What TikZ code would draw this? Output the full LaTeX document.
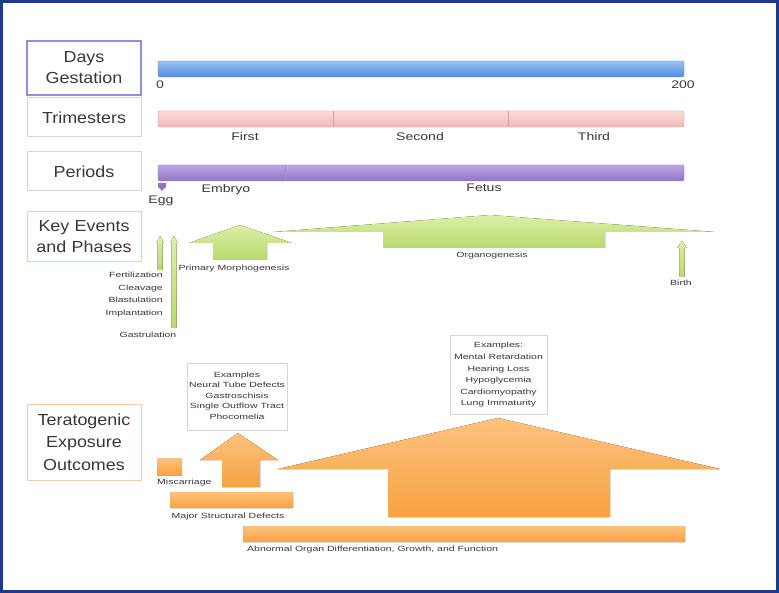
\documentclass[tikz,border=0pt]{standalone}
\usepackage{fontspec}
\setmainfont{Liberation Sans}
\newfontfamily\widefont[FakeStretch=1.4]{Liberation Sans}
\newfontfamily\midwide[FakeStretch=1.28]{Liberation Sans}
\newfontfamily\labfont[FakeStretch=1.12]{Liberation Sans}
\definecolor{navy}{HTML}{1C3A8C}
\definecolor{txt}{HTML}{383838}
\definecolor{boxblue}{HTML}{8E8EE6}
\definecolor{boxgrey}{HTML}{D6D6D6}
\definecolor{boxorange}{HTML}{F2CFA8}
\definecolor{blueT}{HTML}{9CC4F2}
\definecolor{blueB}{HTML}{4F8CDB}
\definecolor{blueD}{HTML}{5A8ED0}
\definecolor{pinkT}{HTML}{FBDADA}
\definecolor{pinkB}{HTML}{F4B8B8}
\definecolor{pinkD}{HTML}{D89A9A}
\definecolor{purT}{HTML}{BDA5E2}
\definecolor{purB}{HTML}{9274C6}
\definecolor{purD}{HTML}{8E70C0}
\definecolor{grnT}{HTML}{DCEFA6}
\definecolor{grnB}{HTML}{B9D96E}
\definecolor{orT}{HTML}{FCC27E}
\definecolor{orB}{HTML}{F8A241}
\begin{document}
\begin{tikzpicture}[x=1pt,y=-1pt,
  labelbox/.style={draw=#1, line width=1pt, fill=white, minimum width=114pt,
    text width=110pt, align=center, text=txt, inner sep=0pt,
    font=\labfont\fontsize{16}{21}\selectfont},
  barbox/.style={minimum width=526pt, minimum height=16pt, inner sep=0pt, rounded corners=2pt},
  small/.style={font=\widefont\fontsize{7.5}{10}\selectfont, text=txt, inner sep=0pt},
  mid/.style={font=\midwide\fontsize{11}{13}\selectfont, text=txt, inner sep=0pt},
  green/.style={top color=grnT, bottom color=grnB, draw=none},
  orange/.style={top color=orT, bottom color=orB, draw=none},
  exbox/.style={draw=boxgrey, fill=white, line width=0.6pt, inner sep=0pt}
]
\useasboundingbox (0,0) rectangle (779,593);
\fill[white] (0,0) rectangle (779,593);
\draw[navy, line width=3pt] (1.5,1.5) rectangle (777.5,591.5);

% left label boxes
\node[labelbox=boxblue, minimum height=54pt, line width=1.4pt] (lday) at (84,68) {Days\\Gestation};
\node[labelbox=boxgrey, minimum height=39pt] (ltri) at (84,117.5) {Trimesters};
\node[labelbox=boxgrey, minimum height=39pt] (lper) at (84,171.5) {Periods};
\node[labelbox=boxorange, minimum height=50pt] (lkey) at (84,237) {Key Events\\and Phases};
\node[labelbox=boxorange, minimum height=76pt, font=\labfont\fontsize{16}{22.5}\selectfont] (lter) at (84,442) {Teratogenic\\Exposure\\Outcomes};

% bars
\node[barbox, top color=blueT, bottom color=blueB, draw=blueD] (days) at (421,69) {};
\node[mid, anchor=north] (d0) at (160,81) {0};
\node[mid, anchor=north] (d200) at (683,81) {200};

\node[barbox, top color=pinkT, bottom color=pinkB, draw=pinkD] (tri) at (421,119) {};
\draw[pinkD, line width=0.8pt] (333,111) -- (333,127) (508,111) -- (508,127);
\node[mid, anchor=north] (first) at (245,132) {First};
\node[mid, anchor=north] (second) at (420,132) {Second};
\node[mid, anchor=north] (third) at (594,132) {Third};

\node[barbox, top color=purT, bottom color=purB, draw=purD] (per) at (421,173) {};
\draw[purD!80!white, line width=0.8pt] (285,165) -- (285,181);
\fill[purB] (158,183) -- (166,183) -- (166,187) -- (162,191) -- (158,187) -- cycle;
\node[mid, anchor=north] (egg) at (161,196) {Egg};
\node[mid, anchor=north] (embryo) at (226,184) {Embryo};
\node[mid, anchor=north] (fetus) at (484,184) {Fetus};

% key events
\fill[green] (157.5,270) -- (157.5,243) -- (156,243) -- (160,236) -- (164,243) -- (162.5,243) -- (162.5,270) -- cycle;
\fill[green] (171.5,328) -- (171.5,243) -- (170,243) -- (174,236) -- (178,243) -- (176.5,243) -- (176.5,328) -- cycle;
\node[small, anchor=north east, align=right, font=\widefont\fontsize{7.5}{12.5}\selectfont] (fert) at (163,272) {Fertilization\\Cleavage\\Blastulation\\Implantation};
\node[small, anchor=north] (gast) at (148,332) {Gastrulation};

\fill[green] (189,243) -- (240,225) -- (292,243) -- (267,243) -- (267,260) -- (213,260) -- (213,243) -- cycle;
\node[small, anchor=north] (prim) at (234,265) {Primary Morphogenesis};

\fill[green] (273,232) -- (490,215) -- (715,232) -- (605,232) -- (605,248) -- (383,248) -- (383,232) -- cycle;
\node[small, anchor=north] (organ) at (492,252) {Organogenesis};

\fill[green] (679.5,277) -- (679.5,248) -- (677,248) -- (682,241) -- (687,248) -- (684.5,248) -- (684.5,277) -- cycle;
\node[small, anchor=north] (birth) at (681,280) {Birth};

% teratogenic outcomes
\node[exbox, minimum width=100pt, minimum height=67pt] (ex1) at (237,396.5) {};
\node[small, align=center, font=\widefont\fontsize{7.5}{10.5}\selectfont] (ex1t) at (237,395.5) {Examples\\Neural Tube Defects\\Gastroschisis\\Single Outflow Tract\\Phocomelia};
\node[exbox, minimum width=97pt, minimum height=79pt] (ex2) at (498.5,374.5) {};
\node[small, align=center, font=\widefont\fontsize{7.5}{11.6}\selectfont] (ex2t) at (498.5,375) {Examples:\\Mental Retardation\\Hearing Loss\\Hypoglycemia\\Cardiomyopathy\\Lung Immaturity};

\fill[orange] (157,458) rectangle (182,475);
\node[small, anchor=north west] (misc) at (157,479) {Miscarriage};

\fill[orange] (200,460) -- (238,433) -- (278,460) -- (260,460) -- (260,487) -- (222,487) -- (222,460) -- cycle;
\fill[orange, rounded corners=1pt] (170,492) rectangle (293,508);
\node[small, anchor=north] (major) at (228,513) {Major Structural Defects};

\fill[orange] (278,469) -- (498,418) -- (720,469) -- (610,469) -- (610,517) -- (388,517) -- (388,469) -- cycle;
\fill[orange, rounded corners=1pt] (243,526) rectangle (685,542);
\node[small, anchor=north west] (abn) at (247,546) {Abnormal Organ Differentiation, Growth, and Function};
\end{tikzpicture}
\end{document}
